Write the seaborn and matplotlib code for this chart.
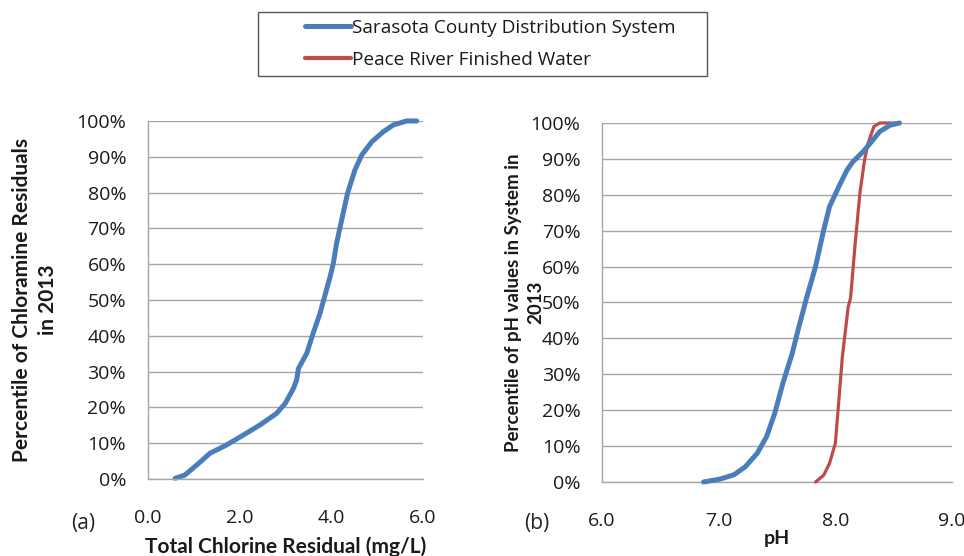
import matplotlib
matplotlib.use("Agg")
import matplotlib.pyplot as plt
from matplotlib.patches import Rectangle
import seaborn as sns
import pandas as pd
from matplotlib.ticker import PercentFormatter, FixedLocator

sns.set_theme(style="white")
plt.rcParams["font.family"] = ["Open Sans", "DejaVu Sans"]

# Cumulative distribution of total chlorine residual (mg/L) in the distribution system
chlorine_mgl = [0.60, 0.81, 1.07, 1.36, 1.72, 2.09, 2.45, 2.81, 3.00, 3.18, 3.25, 3.29,
                3.47, 3.61, 3.76, 3.85, 3.98, 4.05, 4.12, 4.20, 4.36, 4.52, 4.67, 4.89,
                5.14, 5.36, 5.65, 5.87]
chlorine_pct = [0.2, 1.1, 3.9, 7.2, 9.5, 12.3, 15.1, 18.3, 21.1, 25.3, 27.7, 30.9,
                35.1, 40.7, 46.3, 50.5, 56.5, 60.2, 65.8, 70.5, 79.8, 86.3, 90.5, 94.2,
                97.0, 98.9, 100.0, 100.0]

# Cumulative distribution of pH: distribution system
system_ph = [6.87, 7.01, 7.13, 7.23, 7.33, 7.41, 7.48, 7.55, 7.63, 7.68, 7.75, 7.83,
             7.90, 7.95, 8.03, 8.10, 8.15, 8.24, 8.31, 8.38, 8.47, 8.55]
system_pct = [0.0, 0.8, 2.0, 4.3, 8.0, 12.6, 19.1, 27.5, 35.8, 42.3, 50.9, 60.0,
              70.2, 76.7, 82.3, 86.9, 89.2, 92.1, 94.8, 97.6, 99.4, 100.0]

# Cumulative distribution of pH: Peace River finished water
river_ph = [7.83, 7.90, 7.95, 8.00, 8.03, 8.06, 8.11, 8.13, 8.17, 8.21, 8.25, 8.28,
            8.33, 8.38, 8.53]
river_pct = [0.0, 1.9, 5.2, 10.8, 22.8, 34.9, 48.8, 51.2, 66.5, 80.4, 89.7, 94.3,
             99.0, 100.0, 100.0]

series_names = ["Sarasota County Distribution System", "Peace River Finished Water"]
pct_ticks = list(range(0, 101, 10))

BLUE = "#4a7ebb"
RED = "#be4b48"
GRID = "#a6a6a6"
TEXT = "#1a1a1a"

chlorine_df = pd.DataFrame({"x": chlorine_mgl, "p": chlorine_pct})
ph_df = pd.concat([
    pd.DataFrame({"x": system_ph, "p": system_pct, "source": series_names[0]}),
    pd.DataFrame({"x": river_ph, "p": river_pct, "source": series_names[1]}),
], ignore_index=True)

fig = plt.figure(figsize=(9.64, 5.56), dpi=100)
ax1 = fig.add_axes([0.1532, 0.1385, 0.2853, 0.6439])
ax2 = fig.add_axes([0.6245, 0.1331, 0.3631, 0.6457])

sns.lineplot(data=chlorine_df, x="x", y="p", ax=ax1, color=BLUE, lw=3.6,
             sort=False, estimator=None)
sns.lineplot(data=ph_df, x="x", y="p", hue="source", ax=ax2,
             palette={series_names[0]: BLUE, series_names[1]: RED},
             sort=False, estimator=None, legend=False)
lines = ax2.get_lines()
lines[0].set_linewidth(3.6)
lines[1].set_linewidth(2.3)
lines[1].set_zorder(3)
lines[0].set_zorder(4)

def style_axes(ax, xlim, xticks):
    ax.set_xlim(*xlim)
    ax.set_ylim(0, 100)
    ax.xaxis.set_major_locator(FixedLocator(xticks))
    ax.set_xticklabels([f"{t:.1f}" for t in xticks])
    ax.yaxis.set_major_locator(FixedLocator(pct_ticks))
    ax.yaxis.set_major_formatter(PercentFormatter(decimals=0))
    ax.grid(axis="y", color=GRID, lw=1.0)
    ax.grid(axis="x", visible=False)
    for side in ("top", "right"):
        ax.spines[side].set_visible(False)
    for side in ("left", "bottom"):
        ax.spines[side].set_color(GRID)
        ax.spines[side].set_linewidth(1.0)
    ax.tick_params(axis="both", direction="out", length=5.5, width=1.0,
                   color=GRID, labelsize=14, labelcolor=TEXT)
    ax.tick_params(axis="y", pad=10)
    ax.tick_params(axis="x", pad=16)
    ax.set_axisbelow(True)
    for ln in ax.get_lines():
        ln.set_solid_capstyle("round")
        ln.set_solid_joinstyle("round")
        ln.set_clip_on(False)

style_axes(ax1, (0, 6), [0.0, 2.0, 4.0, 6.0])
style_axes(ax2, (6, 9), [6.0, 7.0, 8.0, 9.0])

LABEL_FONT = ["Lato", "DejaVu Sans"]
ax1.set_xlabel("Total Chlorine Residual (mg/L)", fontsize=15, fontweight="bold",
               family=LABEL_FONT, color=TEXT, labelpad=7)
ax1.set_ylabel("Percentile of Chloramine Residuals\nin 2013", fontsize=15,
               fontweight="bold", family=LABEL_FONT, color=TEXT, labelpad=13,
               linespacing=1.4)
ax2.set_xlabel("pH", fontsize=14, fontweight="bold", family=LABEL_FONT,
               color=TEXT, labelpad=0)
ax2.set_ylabel("Percentile of pH values in System in\n2013", fontsize=13.5,
               fontweight="bold", family=LABEL_FONT, color=TEXT, labelpad=-10,
               linespacing=1.4)

fig.text(0.086, 0.058, "(a)", fontsize=15, color="#222222", ha="center", va="center")
fig.text(0.557, 0.058, "(b)", fontsize=15, color="#222222", ha="center", va="center")

# Legend box spanning the header area, entries left-aligned inside
fig.add_artist(Rectangle((258 / 964, 1 - 76 / 556), 449 / 964, 64 / 556,
                         transform=fig.transFigure, facecolor="white",
                         edgecolor="#555555", lw=1.0))
handles = [plt.Line2D([], [], color=BLUE, lw=3.6, solid_capstyle="round"),
           plt.Line2D([], [], color=RED, lw=3.0, solid_capstyle="round")]
leg = fig.legend(handles, series_names, loc="center left",
                 bbox_to_anchor=(305 / 964, 1 - 44 / 556),
                 fontsize=13.7, frameon=False, handlelength=2.4,
                 handletextpad=0.05, borderpad=0, labelspacing=0.75,
                 borderaxespad=0)
for t in leg.get_texts():
    t.set_color(TEXT)

fig.savefig("out.png", dpi=100)
